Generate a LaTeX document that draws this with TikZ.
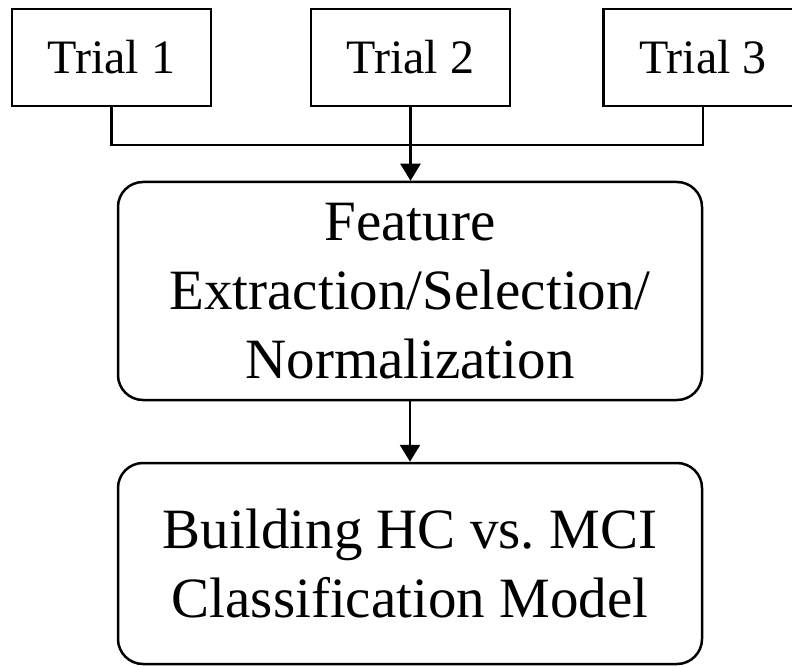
\documentclass[tikz,border=0pt]{standalone}
\usepackage{fontspec}
\setmainfont{Liberation Serif}
\usepackage{tikz}
\usetikzlibrary{positioning, calc, arrows.meta}
\tikzstyle{trial}=[rectangle, draw=black, line width=2.5pt, minimum width=199pt, minimum height=97pt, text centered, font=\fontsize{48}{60}\selectfont]
\tikzstyle{stage}=[rectangle, rounded corners=25pt, draw=black, line width=2.5pt, minimum width=584pt, text centered, align=center, font=\fontsize{57}{69}\selectfont]
\tikzstyle{link}=[line width=2.5pt]
\tikzstyle{arrow}=[line width=2.5pt, -{Triangle[width=20pt, length=17pt]}]

\begin{document}
\begin{tikzpicture}[x=1pt, y=1pt]
	\useasboundingbox (0,0) rectangle (792,665);
	\clip (0,0) rectangle (792,665);

		\node[trial] (trial1) at (111.5, 607.5) {Trial 1};
		\node[trial] (trial2) at (410.5, 607.5) {Trial 2};
		\node[trial] (trial3) at (703, 607.5) {Trial 3};
		\node[stage, minimum height=218pt] (feat) at (410, 374) {Feature\\Extraction/Selection/\\Normalization};
		\node[stage, minimum height=201pt] (model) at (410, 101.5) {Building HC vs.\ MCI\\Classification Model};

		\coordinate (junc) at (410.5, 520);
		\draw[link] (trial1.south) |- (junc) -| (trial3.south);
		\draw[arrow] (trial2.south) -- (trial2.south |- feat.north);
		\draw[arrow] (feat.south) -- (model.north);
\end{tikzpicture}
\end{document}
